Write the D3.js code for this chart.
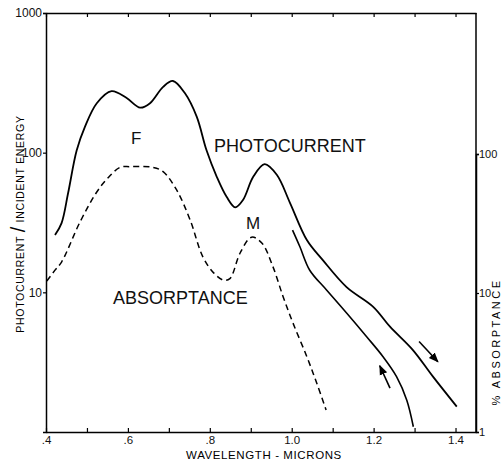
<!DOCTYPE html>
<html>
<head>
<meta charset="utf-8">
<script src="https://cdn.jsdelivr.net/npm/d3@7"></script>
<style>
  body { margin: 0; background: #fff; }
  svg { font-family: "Liberation Sans", Arial, sans-serif; }
</style>
</head>
<body>
<div id="chart"></div>
<script>
// photocurrent / incident energy, rising wavelength (solid)
const photoWl = [0.422, 0.438, 0.454, 0.475, 0.495, 0.524, 0.560, 0.597, 0.630, 0.654, 0.686, 0.710, 0.739, 0.768, 0.792, 0.817, 0.841, 0.862, 0.881, 0.906, 0.934, 0.964, 0.996, 1.037, 1.076, 1.134, 1.199, 1.240, 1.296, 1.345, 1.403];
const photoVal = [25.7, 31.3, 51.4, 104, 153, 226, 276, 246, 210, 226, 296, 326, 267, 181, 104, 67.2, 48.3, 40.6, 45.8, 67.2, 82.8, 69.2, 43.6, 23.7, 17.0, 10.9, 7.88, 5.68, 3.86, 2.49, 1.52];

// photocurrent measured going back (lower solid branch)
const returnWl = [1.002, 1.020, 1.044, 1.085, 1.134, 1.183, 1.223, 1.256, 1.281, 1.297];
const returnVal = [27.9, 21.2, 14.4, 10.4, 7.11, 4.81, 3.46, 2.49, 1.69, 1.09];

// % absorptance (dashed, right axis)
const absWl = [0.402, 0.422, 0.438, 0.483, 0.524, 0.551, 0.581, 0.605, 0.661, 0.686, 0.719, 0.752, 0.783, 0.810, 0.833, 0.849, 0.874, 0.902, 0.927, 0.954, 0.979, 1.003, 1.037, 1.061, 1.084];
const absVal = [12.2, 14.6, 16.7, 32.4, 53.3, 67.2, 80.2, 81.1, 80.2, 74.6, 55.1, 33.5, 18.2, 13.9, 12.4, 12.7, 19.4, 25.2, 22.9, 15.5, 9.4, 6.09, 3.48, 2.25, 1.44];

// arrows [x1, y1, x2, y2] in data units
const arrows = [[1.311, 4.45, 1.357, 3.18], [1.240, 2.06, 1.215, 2.98]];

const xTicks = [0.4, 0.5, 0.6, 0.7, 0.8, 0.9, 1.0, 1.1, 1.2, 1.3, 1.4];
const xLabels = {0.4: ".4", 0.6: ".6", 0.8: ".8", 1.0: "1.0", 1.2: "1.2", 1.4: "1.4"};
const yTicksLeft = [10, 100, 1000];
const yTicksRight = [1, 10, 100];

const W = 502, H = 460;
const svg = d3.select("#chart").append("svg")
    .attr("width", W).attr("height", H);

let x = d3.scaleLinear().domain([0.4, 1.45]).range([46, 476]);
let y = d3.scaleLog().domain([1, 1000]).range([432, 13]);
let yR = d3.scaleLog().domain([1, 100]).range([432, 154]);

const line = (ys) => d3.line()
    .x(d => x(d[0]))
    .y(d => ys(d[1]))
    .curve(d3.curveCatmullRom.alpha(0.5));

// frame / axes
svg.append("g")
    .attr("transform", "translate(0,432)")
    .call(d3.axisBottom(x).tickValues(xTicks).tickSizeInner(-4).tickSizeOuter(0)
        .tickFormat(d => xLabels[d] || ""))
    .call(g => g.selectAll("text").attr("dy", 0).attr("y", 12).style("font-size", "11.5px"));

svg.append("g")
    .attr("transform", "translate(0,13)")
    .call(d3.axisTop(x).tickValues(xTicks).tickSizeInner(-4).tickSizeOuter(0).tickFormat(""));

svg.append("g")
    .attr("transform", "translate(46,0)")
    .call(d3.axisLeft(y).tickValues(yTicksLeft).tickSize(3).tickPadding(1)
        .tickFormat(d3.format("d")))
    .call(g => g.selectAll("text").style("font-size", "12px"));

svg.append("g")
    .attr("transform", "translate(476,0)")
    .call(d3.axisRight(yR).tickValues(yTicksRight).tickSize(3).tickPadding(0)
        .tickFormat(d3.format("d")))
    .call(g => g.selectAll("text").style("font-size", "11px"));

// right axis line goes all the way up
svg.append("line")
    .attr("x1", 476).attr("x2", 476).attr("y1", 13).attr("y2", 432)
    .attr("stroke", "#000").attr("stroke-width", 1.5);

svg.selectAll(".domain").attr("stroke", "#000").attr("stroke-width", 1.5);
svg.selectAll(".tick line").attr("stroke", "#000").attr("stroke-width", 1.2);
svg.selectAll(".tick text").attr("fill", "#111");

// curves
svg.append("path")
    .datum(d3.zip(photoWl, photoVal))
    .attr("d", line(y))
    .attr("fill", "none").attr("stroke", "#000").attr("stroke-width", 1.8);

svg.append("path")
    .datum(d3.zip(returnWl, returnVal))
    .attr("d", line(y))
    .attr("fill", "none").attr("stroke", "#000").attr("stroke-width", 1.6);

svg.append("path")
    .datum(d3.zip(absWl, absVal))
    .attr("d", line(yR))
    .attr("fill", "none").attr("stroke", "#000").attr("stroke-width", 1.5)
    .attr("stroke-dasharray", "6,4");

// arrows
svg.append("defs").append("marker")
    .attr("id", "head")
    .attr("viewBox", "0 0 10 10")
    .attr("refX", 9).attr("refY", 5)
    .attr("markerWidth", 10).attr("markerHeight", 10)
    .attr("markerUnits", "userSpaceOnUse")
    .attr("orient", "auto")
    .append("path").attr("d", "M0,1 L10,5 L0,9 Z").attr("fill", "#000");

svg.selectAll(".arrow")
    .data(arrows)
    .enter().append("line")
    .attr("class", "arrow")
    .attr("x1", d => x(d[0])).attr("y1", d => y(d[1]))
    .attr("x2", d => x(d[2])).attr("y2", d => y(d[3]))
    .attr("stroke", "#000").attr("stroke-width", 1.6)
    .attr("marker-end", "url(#head)");

// curve labels
const label = (t, px, py, size) => svg.append("text")
    .attr("x", px).attr("y", py)
    .style("font-size", size + "px").attr("fill", "#111").text(t);

label("F", 131, 144, 17);
label("PHOTOCURRENT", 214, 152, 18);
label("M", 246, 229, 17);
label("ABSORPTANCE", 113, 304, 18);

// axis titles
svg.append("text")
    .attr("x", 264).attr("y", 459)
    .attr("text-anchor", "middle")
    .style("font-size", "11.5px").style("letter-spacing", "0.6px")
    .text("WAVELENGTH - MICRONS");

let yt = svg.append("text")
    .attr("transform", "translate(24,224) rotate(-90)")
    .attr("text-anchor", "middle")
    .style("font-size", "10.5px").style("letter-spacing", "0.7px");
yt.append("tspan").text("PHOTOCURRENT ");
yt.append("tspan").style("font-size", "20px").attr("dy", 1).text("/");
yt.append("tspan").attr("dy", -1).text(" INCIDENT ENERGY");

svg.append("text")
    .attr("transform", "translate(500,342) rotate(-90)")
    .attr("text-anchor", "middle")
    .style("font-size", "11px").style("letter-spacing", "2.5px")
    .text("% ABSORPTANCE");
</script>
</body>
</html>
